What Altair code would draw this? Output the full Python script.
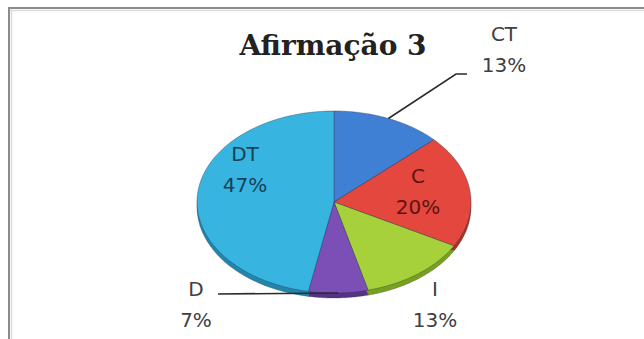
import math

import altair as alt
import pandas as pd

# Survey answers for "Afirmação 3" (percent of respondents)
categories = ["CT", "C", "I", "D", "DT"]
values = [13, 20, 13, 7, 47]

# Slice colours: top face and the darker side wall of the tilted pie
face_colors = ["#3f80d5", "#e4473e", "#a6d13b", "#7c4fb6", "#37b4e0"]
side_colors = ["#2a5d9f", "#a92f28", "#78a01f", "#563186", "#1f86ad"]
label_colors = ["#404040", "#5c1414", "#404040", "#404040", "#174257"]

# Canvas and ellipse geometry (pixels)
W, H = 644, 339
CX, CY = 334, 202
RX, RY = 137, 91
DEPTH = 5

# Label anchors (centre of each label's first line) and leader-line bends (pixels)
label_anchor = {
    "CT": (504, 35),
    "C": (418, 177),
    "I": (435, 290),
    "D": (196, 290),
    "DT": (245, 155),
}
leader_bends = {
    "CT": [(456, 74), (467, 74)],
    "D": [(218, 294)],
}


def ux(px):
    return (px - CX) / RX


def uy(py):
    return (CY - py) / RY


x_scale = alt.Scale(domain=[ux(0), ux(W)], nice=False, zero=False)
y_scale = alt.Scale(domain=[uy(H), uy(0)], nice=False, zero=False)
X = alt.X("px:Q", scale=x_scale, axis=None)
Y = alt.Y("py:Q", scale=y_scale, axis=None)

slices = pd.DataFrame(
    {"category": categories, "value": values, "order": list(range(len(categories)))}
)

# Each slice becomes a closed wedge outline on the unit ellipse:
# centre -> arc points -> centre, clockwise from 12 o'clock.
wedges = (
    alt.Chart(slices)
    .transform_window(cum="sum(value)", sort=[alt.SortField("order")])
    .transform_joinaggregate(total="sum(value)")
    .transform_calculate(
        a0="2 * PI * (datum.cum - datum.value) / datum.total",
        a1="2 * PI * datum.cum / datum.total",
        steps="sequence(-1, 62)",
    )
    .transform_flatten(["steps"], as_=["step"])
    .transform_calculate(
        ang="datum.a0 + (datum.a1 - datum.a0) * clamp(datum.step, 0, 60) / 60",
        edge="datum.step >= 0 && datum.step <= 60 ? 1 : 0",
    )
    .transform_calculate(
        px="datum.edge * sin(datum.ang)",
        py="datum.edge * cos(datum.ang)",
    )
)

side = wedges.mark_line(yOffset=DEPTH, strokeWidth=0.8, stroke="#333333", strokeOpacity=0.35).encode(
    x=X,
    y=Y,
    order=alt.Order("step:Q"),
    detail="category:N",
    fill=alt.Fill(
        "category:N", scale=alt.Scale(domain=categories, range=side_colors), legend=None
    ),
)

face = wedges.mark_line(strokeWidth=0.9, stroke="#2c3e55", strokeOpacity=0.45).encode(
    x=X,
    y=Y,
    order=alt.Order("step:Q"),
    detail="category:N",
    fill=alt.Fill(
        "category:N", scale=alt.Scale(domain=categories, range=face_colors), legend=None
    ),
)

# Leader lines start on the rim at each slice's mid angle
total = sum(values)
rows = []
cum = 0
for cat, val in zip(categories, values):
    mid = 2 * math.pi * (cum + val / 2) / total
    cum += val
    if cat in leader_bends:
        rows.append({"category": cat, "seq": 0, "px": math.sin(mid), "py": math.cos(mid)})
        for i, (bx, by) in enumerate(leader_bends[cat], start=1):
            rows.append({"category": cat, "seq": i, "px": ux(bx), "py": uy(by)})
leaders_df = pd.DataFrame(rows)

leaders = alt.Chart(leaders_df).mark_line(color="#2b2b2b", strokeWidth=1.6).encode(
    x=X, y=Y, detail="category:N", order=alt.Order("seq:Q")
)

labels_df = pd.DataFrame(
    {
        "category": categories,
        "text": [f"{c}\n{v}%" for c, v in zip(categories, values)],
        "px": [ux(label_anchor[c][0]) for c in categories],
        "py": [uy(label_anchor[c][1]) for c in categories],
    }
)

labels = alt.Chart(labels_df).mark_text(
    font="DejaVu Sans",
    fontSize=20,
    lineBreak="\n",
    lineHeight=31,
    align="center",
    baseline="middle",
).encode(
    x=X,
    y=Y,
    text="text:N",
    color=alt.Color(
        "category:N", scale=alt.Scale(domain=categories, range=label_colors), legend=None
    ),
)

title = alt.Chart(pd.DataFrame({"t": ["Afirmação 3"]})).mark_text(
    font="DejaVu Serif",
    fontSize=28,
    fontWeight="bold",
    color="#222222",
    align="center",
    baseline="alphabetic",
).encode(text="t:N", x=alt.value(333), y=alt.value(55))

# Frame: grey top and left edges with a soft inner shade
one = pd.DataFrame({"k": [0]})
frame = alt.layer(
    alt.Chart(one).mark_rule(color="#8c8c8c", strokeWidth=2).encode(
        x=alt.value(8), x2=alt.value(W), y=alt.value(8)
    ),
    alt.Chart(one).mark_rule(color="#8c8c8c", strokeWidth=2).encode(
        x=alt.value(9), y=alt.value(8), y2=alt.value(H)
    ),
    alt.Chart(one).mark_rule(color="#dadada", strokeWidth=1.5).encode(
        x=alt.value(10), x2=alt.value(W), y=alt.value(10.5)
    ),
    alt.Chart(one).mark_rule(color="#dadada", strokeWidth=1.5).encode(
        x=alt.value(11.5), y=alt.value(10), y2=alt.value(H)
    ),
)

chart = (
    alt.layer(frame, side, face, leaders, labels, title)
    .resolve_scale(fill="independent", color="independent")
    .properties(width=W, height=H, padding=0, autosize="none", background="white")
    .configure_view(stroke=None)
)

chart.save("out.html", embed_options={"renderer": "svg", "actions": False})
